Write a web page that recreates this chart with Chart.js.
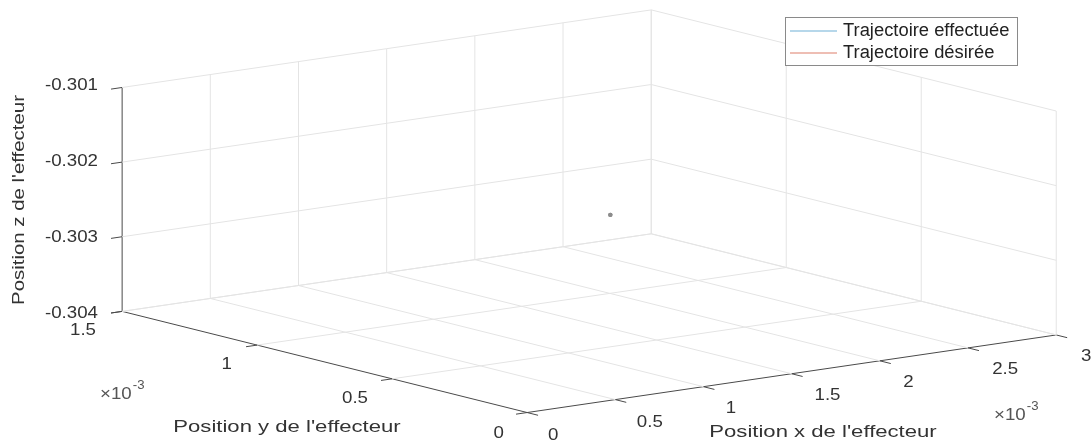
<!DOCTYPE html>
<html><head><meta charset="utf-8">
<script src="https://cdn.jsdelivr.net/npm/chart.js@4.4.0/dist/chart.umd.min.js"></script>
<style>html,body{margin:0;padding:0;background:#fff;overflow:hidden}canvas{display:block}</style>
</head><body>
<canvas id="c" width="1091" height="446"></canvas>
<script>
// ---- data ----
const xTicks = [0, 0.5e-3, 1e-3, 1.5e-3, 2e-3, 2.5e-3, 3e-3];
const yTicks = [0, 0.5e-3, 1e-3, 1.5e-3];
const zTicks = [-0.304, -0.303, -0.302, -0.301];
const xTickLabels = ['0', '0.5', '1', '1.5', '2', '2.5', '3'];
const yTickLabels = ['0', '0.5', '1', '1.5'];
const zTickLabels = ['-0.304', '-0.303', '-0.302', '-0.301'];
const seriesNames = ['Trajectoire effectuée', 'Trajectoire désirée'];
const effX = [1.62e-3], effY = [0.75e-3], effZ = [-0.30259];
const desX = [1.62e-3], desY = [0.75e-3], desZ = [-0.30259];
const xLabel = "Position x de l'effecteur";
const yLabel = "Position y de l'effecteur";
const zLabel = "Position z de l'effecteur";

// ---- view (camera) ----
const xMin = xTicks[0], xMax = xTicks[xTicks.length - 1];
const yMin = yTicks[0], yMax = yTicks[yTicks.length - 1];
const zMin = zTicks[0], zMax = zTicks[zTicks.length - 1];
const view = { o: [527, 416], ex: [533, -79], ey: [-408, -103], ez: [0, -228] };
function proj(x, y, z) {
  const a = (x - xMin) / (xMax - xMin), b = (y - yMin) / (yMax - yMin), c = (z - zMin) / (zMax - zMin);
  return { x: view.o[0] + a * view.ex[0] + b * view.ey[0] + c * view.ez[0],
           y: view.o[1] + a * view.ex[1] + b * view.ey[1] + c * view.ez[1] };
}
const GAP = { x: NaN, y: NaN };
function segs(list) { const out = []; list.forEach(s => { out.push(proj(...s[0]), proj(...s[1]), GAP); }); return out; }

// grid lines
const grid = [];
xTicks.forEach(x => { if (x > xMin) grid.push([[x, yMin, zMin], [x, yMax, zMin]]); });
yTicks.forEach(y => { if (y > yMin) grid.push([[xMin, y, zMin], [xMax, y, zMin]]); });
xTicks.forEach(x => { if (x > xMin) grid.push([[x, yMax, zMin], [x, yMax, zMax]]); });
zTicks.forEach(z => { grid.push([[xMin, yMax, z], [xMax, yMax, z]]); });
yTicks.forEach(y => { grid.push([[xMax, y, zMin], [xMax, y, zMax]]); });
zTicks.forEach(z => { grid.push([[xMax, yMin, z], [xMax, yMax, z]]); });

// axis lines
const axes = [
  [[xMin, yMin, zMin], [xMax, yMin, zMin]],
  [[xMin, yMin, zMin], [xMin, yMax, zMin]],
  [[xMin, yMax, zMin], [xMin, yMax, zMax]]
];
const tx = 0.021 * (xMax - xMin), ty = 0.027 * (yMax - yMin);
const ticks = [];
xTicks.forEach(x => ticks.push([[x, yMin, zMin], [x, yMin - ty, zMin]]));
yTicks.forEach(y => ticks.push([[xMin, y, zMin], [xMin - tx, y, zMin]]));
zTicks.forEach(z => ticks.push([[xMin, yMax, z], [xMin - tx, yMax, z]]));

const effPts = effX.map((v, i) => proj(v, effY[i], effZ[i]));
const desPts = desX.map((v, i) => proj(v, desY[i], desZ[i]));
const seriesColors = ['#6fb0d6', '#de7f6a'];

const FONT = '"Liberation Sans", Arial, Helvetica, sans-serif';
function txt(ctx, s, x, y, size, align, sx, rot, color) {
  ctx.save(); ctx.translate(x, y); if (rot) ctx.rotate(rot); ctx.scale(sx, 1);
  ctx.font = size + 'px ' + FONT; ctx.textAlign = align; ctx.textBaseline = 'middle';
  ctx.fillStyle = color || '#333'; ctx.fillText(s, 0, 0); ctx.restore();
}
function mult(ctx, x, y) {
  ctx.save(); ctx.fillStyle = '#555'; ctx.textBaseline = 'alphabetic'; ctx.textAlign = 'left';
  ctx.translate(x, y); ctx.scale(1.1, 1);
  ctx.font = '17px ' + FONT; ctx.fillText('×10', 0, 0);
  const w = ctx.measureText('×10').width;
  ctx.font = '12px ' + FONT; ctx.fillText('-3', w + 1, -10); ctx.restore();
}

const textPlugin = {
  id: 'texts',
  afterDatasetsDraw(chart) {
    const ctx = chart.ctx;
    xTicks.forEach((x, i) => { const p = proj(x, yMin, zMin); txt(ctx, xTickLabels[i], p.x + 21, p.y + 19, 17, 'left', 1.1); });
    yTicks.forEach((y, i) => { const p = proj(xMin, y, zMin); txt(ctx, yTickLabels[i], p.x - 23, p.y + 17, 17, 'right', 1.1); });
    zTicks.forEach((z, i) => { const p = proj(xMin, yMax, z); txt(ctx, zTickLabels[i], p.x - 21, p.y, 17, 'right', 1.1); });
    mult(ctx, 100, 399);
    mult(ctx, 994, 420);
    txt(ctx, xLabel, 823, 432, 17, 'center', 1.3);
    txt(ctx, yLabel, 287, 427, 17, 'center', 1.3);
    txt(ctx, zLabel, 19, 200, 17, 'center', 1.2, -Math.PI / 2);
    // legend
    ctx.save();
    ctx.fillStyle = '#fff'; ctx.fillRect(785, 17, 232, 48);
    ctx.strokeStyle = '#8a8a8a'; ctx.lineWidth = 1; ctx.strokeRect(785.5, 17.5, 232, 48);
    const ly = [31, 53];
    seriesNames.forEach((n, i) => {
      ctx.strokeStyle = seriesColors[i]; ctx.lineWidth = 1.2;
      ctx.beginPath(); ctx.moveTo(790, ly[i]); ctx.lineTo(837, ly[i]); ctx.stroke();
      txt(ctx, n, 843, ly[i], 18, 'left', 1.02, 0, '#222');
    });
    ctx.restore();
  }
};

new Chart(document.getElementById('c'), {
  type: 'scatter',
  data: {
    datasets: [
      { label: 'grid', data: segs(grid), showLine: true, borderColor: '#e4e4e4', borderWidth: 1, pointRadius: 0, spanGaps: false },
      { label: 'axes', data: segs(axes), showLine: true, borderColor: '#4a4a4a', borderWidth: 1, pointRadius: 0, spanGaps: false },
      { label: 'ticks', data: segs(ticks), showLine: true, borderColor: '#4a4a4a', borderWidth: 1, pointRadius: 0, spanGaps: false },
      { label: seriesNames[1], data: desPts, showLine: true, borderColor: seriesColors[1], pointRadius: 2.2, pointBackgroundColor: '#8c8c8c', pointBorderWidth: 0 },
      { label: seriesNames[0], data: effPts, showLine: true, borderColor: seriesColors[0], pointRadius: 2.2, pointBackgroundColor: '#8c8c8c', pointBorderWidth: 0 }
    ]
  },
  options: {
    responsive: false, animation: false, devicePixelRatio: 1,
    layout: { padding: 0 },
    scales: {
      x: { type: 'linear', min: 0, max: 1091, display: false },
      y: { type: 'linear', min: 0, max: 446, reverse: true, display: false }
    },
    plugins: { legend: { display: false }, tooltip: { enabled: false } }
  },
  plugins: [textPlugin]
});
</script>
</body></html>
